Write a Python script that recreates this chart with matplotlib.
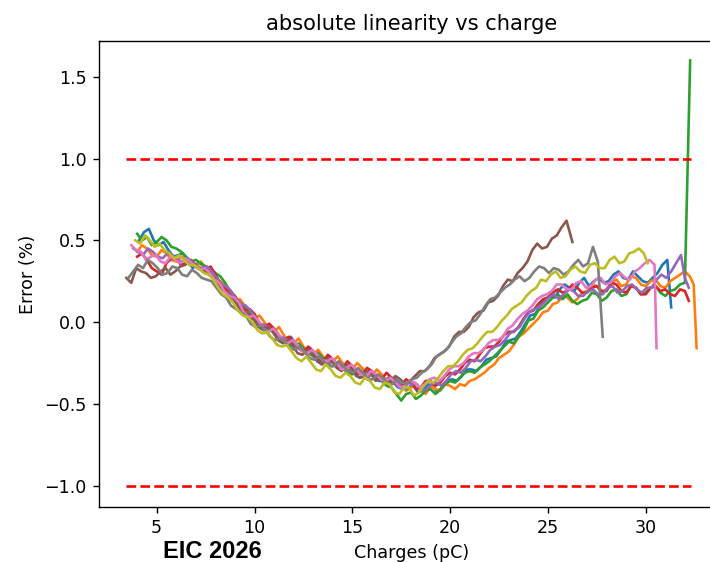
import numpy as np
import matplotlib
matplotlib.use("Agg")
import matplotlib.pyplot as plt

# charge scan sampled every 0.25 pC from each run's first point
step = 0.25

blue_x0 = 4.1
blue_y = [0.50, 0.55, 0.57, 0.50, 0.47, 0.49, 0.44, 0.40, 0.41, 0.42, 0.37, 0.33, 0.36, 0.35, 0.31, 0.30, 0.25, 0.24, 0.19, 0.13,
          0.12, 0.12, 0.08, 0.02, 0.01, -0.04, -0.05, -0.03, -0.07, -0.11, -0.12, -0.09, -0.13, -0.17, -0.19, -0.16, -0.20, -0.24, -0.24, -0.21,
          -0.24, -0.28, -0.29, -0.26, -0.30, -0.34, -0.33, -0.30, -0.32, -0.36, -0.36, -0.34, -0.37, -0.40, -0.41, -0.37, -0.38, -0.43, -0.42, -0.38,
          -0.39, -0.43, -0.40, -0.36, -0.35, -0.36, -0.33, -0.29, -0.29, -0.30, -0.27, -0.23, -0.22, -0.21, -0.17, -0.12, -0.11, -0.10, -0.06, -0.01,
          0.04, 0.05, 0.10, 0.14, 0.16, 0.15, 0.20, 0.23, 0.21, 0.19, 0.24, 0.27, 0.22, 0.25, 0.27, 0.24, 0.25, 0.29, 0.31, 0.27,
          0.26, 0.31, 0.28, 0.25, 0.24, 0.27, 0.30, 0.35, 0.38]
blue_tail_x = [31.3]
blue_tail_y = [0.09]

orange_x0 = 4.0
orange_y = [0.43, 0.47, 0.45, 0.41, 0.40, 0.44, 0.42, 0.38, 0.37, 0.40, 0.39, 0.35, 0.34, 0.37, 0.33, 0.29, 0.26, 0.25, 0.22, 0.16,
            0.13, 0.14, 0.10, 0.05, 0.02, 0.04, 0.00, -0.04, -0.06, -0.03, -0.08, -0.12, -0.13, -0.10, -0.15, -0.19, -0.20, -0.17, -0.21, -0.24,
            -0.24, -0.21, -0.25, -0.29, -0.29, -0.25, -0.28, -0.32, -0.33, -0.29, -0.32, -0.36, -0.37, -0.35, -0.38, -0.42, -0.40, -0.38, -0.41, -0.44,
            -0.39, -0.41, -0.42, -0.38, -0.39, -0.41, -0.38, -0.39, -0.36, -0.35, -0.33, -0.31, -0.28, -0.26, -0.22, -0.20, -0.18, -0.14, -0.09, -0.07,
            -0.04, -0.01, 0.02, 0.06, 0.07, 0.11, 0.12, 0.16, 0.15, 0.12, 0.14, 0.18, 0.19, 0.23, 0.22, 0.18, 0.20, 0.24, 0.26, 0.22,
            0.23, 0.28, 0.27, 0.23, 0.22, 0.25, 0.26, 0.22, 0.21, 0.25, 0.27, 0.29, 0.31]
orange_tail_x = [32.25, 32.45, 32.6]
orange_tail_y = [0.28, 0.23, -0.16]

green_x0 = 4.0
green_y = [0.54, 0.50, 0.52, 0.47, 0.49, 0.52, 0.50, 0.46, 0.45, 0.43, 0.40, 0.37, 0.38, 0.36, 0.34, 0.33, 0.30, 0.28, 0.24, 0.19,
           0.15, 0.12, 0.09, 0.06, 0.04, -0.01, -0.03, -0.05, -0.06, -0.09, -0.11, -0.14, -0.15, -0.13, -0.16, -0.19, -0.21, -0.19, -0.22, -0.26,
           -0.27, -0.25, -0.28, -0.31, -0.32, -0.29, -0.31, -0.35, -0.35, -0.33, -0.36, -0.39, -0.40, -0.44, -0.48, -0.44, -0.43, -0.47, -0.45, -0.42,
           -0.41, -0.44, -0.41, -0.38, -0.36, -0.37, -0.34, -0.31, -0.30, -0.31, -0.28, -0.26, -0.24, -0.21, -0.18, -0.15, -0.12, -0.13, -0.09, -0.05,
           0.01, 0.02, 0.07, 0.09, 0.12, 0.15, 0.17, 0.14, 0.17, 0.13, 0.11, 0.13, 0.14, 0.18, 0.17, 0.13, 0.15, 0.19, 0.20, 0.16,
           0.17, 0.22, 0.21, 0.17, 0.18, 0.21, 0.22, 0.18, 0.16, 0.19, 0.20, 0.23, 0.24]
green_tail_x = [32.27]
green_tail_y = [1.60]

red_x0 = 4.0
red_y = [0.40, 0.42, 0.38, 0.33, 0.31, 0.29, 0.36, 0.39, 0.38, 0.35, 0.36, 0.38, 0.35, 0.32, 0.31, 0.34, 0.29, 0.24, 0.20, 0.19,
         0.16, 0.11, 0.07, 0.08, 0.05, -0.01, -0.03, -0.01, -0.04, -0.08, -0.11, -0.09, -0.12, -0.16, -0.18, -0.15, -0.18, -0.22, -0.24, -0.20,
         -0.23, -0.27, -0.28, -0.24, -0.27, -0.31, -0.32, -0.28, -0.30, -0.34, -0.35, -0.31, -0.34, -0.38, -0.39, -0.35, -0.37, -0.41, -0.40, -0.36,
         -0.36, -0.39, -0.37, -0.33, -0.31, -0.32, -0.29, -0.25, -0.23, -0.24, -0.20, -0.16, -0.15, -0.15, -0.12, -0.08, -0.06, -0.06, -0.03, 0.02,
         0.06, 0.07, 0.11, 0.14, 0.15, 0.18, 0.20, 0.18, 0.19, 0.23, 0.21, 0.18, 0.18, 0.21, 0.22, 0.19, 0.19, 0.24, 0.23, 0.19,
         0.18, 0.22, 0.21, 0.17, 0.17, 0.21, 0.22, 0.19, 0.20, 0.17, 0.16, 0.20, 0.19]
red_tail_x = [32.2]
red_tail_y = [0.13]

purple_x0 = 3.8
purple_y = [0.45, 0.43, 0.41, 0.45, 0.43, 0.40, 0.39, 0.42, 0.41, 0.38, 0.37, 0.39, 0.37, 0.34, 0.33, 0.34, 0.31, 0.27, 0.23, 0.22,
            0.19, 0.14, 0.11, 0.10, 0.07, 0.02, -0.01, -0.02, -0.04, -0.08, -0.09, -0.10, -0.12, -0.14, -0.15, -0.18, -0.19, -0.19, -0.21, -0.24,
            -0.25, -0.24, -0.26, -0.29, -0.30, -0.28, -0.30, -0.33, -0.34, -0.31, -0.33, -0.36, -0.37, -0.34, -0.36, -0.40, -0.41, -0.38, -0.38, -0.42,
            -0.41, -0.38, -0.37, -0.39, -0.36, -0.32, -0.30, -0.31, -0.28, -0.24, -0.23, -0.24, -0.21, -0.17, -0.15, -0.14, -0.11, -0.07, -0.05, -0.03,
            0.02, 0.06, 0.08, 0.09, 0.12, 0.15, 0.17, 0.14, 0.17, 0.20, 0.19, 0.16, 0.16, 0.19, 0.20, 0.17, 0.17, 0.21, 0.22, 0.18,
            0.19, 0.22, 0.23, 0.20, 0.18, 0.21, 0.21, 0.26, 0.29, 0.27, 0.31, 0.36, 0.41]
purple_tail_x = [32.0, 32.2]
purple_tail_y = [0.27, 0.21]

brown_x0 = 3.45
brown_y = [0.27, 0.24, 0.33, 0.31, 0.30, 0.27, 0.28, 0.31, 0.33, 0.29, 0.31, 0.34, 0.35, 0.37, 0.34, 0.33, 0.31, 0.29, 0.27, 0.22,
           0.19, 0.17, 0.14, 0.09, 0.06, 0.05, 0.02, -0.03, -0.05, -0.03, -0.06, -0.11, -0.13, -0.11, -0.14, -0.19, -0.20, -0.17, -0.19, -0.24,
           -0.26, -0.22, -0.24, -0.28, -0.30, -0.26, -0.28, -0.33, -0.34, -0.30, -0.31, -0.36, -0.34, -0.36, -0.37, -0.33, -0.35, -0.38, -0.36, -0.33,
           -0.30, -0.30, -0.27, -0.22, -0.20, -0.18, -0.15, -0.09, -0.06, -0.06, -0.03, 0.03, 0.06, 0.07, 0.12, 0.13, 0.16, 0.22, 0.26, 0.25,
           0.30, 0.33, 0.37, 0.44, 0.48, 0.45, 0.46, 0.51, 0.53, 0.58, 0.62]
brown_tail_x = [26.25]
brown_tail_y = [0.49]

pink_x0 = 3.7
pink_y = [0.47, 0.44, 0.43, 0.38, 0.40, 0.41, 0.37, 0.36, 0.40, 0.38, 0.36, 0.39, 0.37, 0.34, 0.32, 0.33, 0.30, 0.26, 0.24, 0.19,
          0.16, 0.15, 0.12, 0.06, 0.03, 0.04, 0.01, -0.04, -0.06, -0.04, -0.07, -0.11, -0.13, -0.11, -0.14, -0.18, -0.19, -0.17, -0.20, -0.23,
          -0.24, -0.22, -0.25, -0.29, -0.28, -0.26, -0.29, -0.32, -0.33, -0.30, -0.32, -0.35, -0.36, -0.34, -0.37, -0.40, -0.39, -0.36, -0.37, -0.40,
          -0.38, -0.35, -0.34, -0.36, -0.33, -0.29, -0.27, -0.27, -0.25, -0.21, -0.19, -0.19, -0.17, -0.13, -0.11, -0.11, -0.09, -0.04, -0.02, 0.02,
          0.05, 0.07, 0.10, 0.14, 0.16, 0.17, 0.19, 0.23, 0.23, 0.20, 0.20, 0.24, 0.25, 0.21, 0.22, 0.26, 0.27, 0.23, 0.24, 0.28,
          0.30, 0.27, 0.26, 0.31, 0.33, 0.36, 0.38]
pink_tail_x = [30.45, 30.55]
pink_tail_y = [0.35, -0.16]

gray_x0 = 3.55
gray_y = [0.27, 0.31, 0.35, 0.33, 0.38, 0.36, 0.33, 0.29, 0.30, 0.34, 0.33, 0.29, 0.28, 0.32, 0.30, 0.27, 0.26, 0.25, 0.21, 0.17,
          0.15, 0.10, 0.08, 0.06, 0.04, -0.01, -0.03, -0.02, -0.05, -0.09, -0.11, -0.10, -0.12, -0.16, -0.17, -0.15, -0.18, -0.22, -0.23, -0.21,
          -0.24, -0.27, -0.27, -0.24, -0.27, -0.30, -0.31, -0.28, -0.31, -0.35, -0.35, -0.32, -0.34, -0.38, -0.38, -0.35, -0.37, -0.38, -0.35, -0.34,
          -0.31, -0.29, -0.26, -0.21, -0.19, -0.17, -0.13, -0.09, -0.07, -0.03, 0.00, 0.01, 0.05, 0.10, 0.14, 0.15, 0.18, 0.21, 0.23, 0.26,
          0.28, 0.25, 0.27, 0.31, 0.34, 0.33, 0.30, 0.33, 0.32, 0.29, 0.31, 0.35, 0.38, 0.34, 0.36]
gray_tail_x = [27.3, 27.55, 27.8]
gray_tail_y = [0.46, 0.37, -0.09]

olive_x0 = 3.9
olive_y = [0.50, 0.48, 0.53, 0.50, 0.46, 0.48, 0.44, 0.42, 0.39, 0.41, 0.38, 0.35, 0.35, 0.33, 0.30, 0.29, 0.26, 0.21, 0.17, 0.15,
           0.12, 0.07, 0.04, 0.03, 0.00, -0.05, -0.07, -0.06, -0.10, -0.14, -0.15, -0.14, -0.18, -0.22, -0.24, -0.21, -0.25, -0.29, -0.30, -0.26,
           -0.29, -0.33, -0.34, -0.31, -0.33, -0.37, -0.38, -0.34, -0.36, -0.40, -0.41, -0.37, -0.38, -0.43, -0.44, -0.40, -0.40, -0.45, -0.43, -0.39,
           -0.36, -0.37, -0.34, -0.30, -0.27, -0.27, -0.24, -0.20, -0.17, -0.16, -0.13, -0.09, -0.06, -0.06, -0.03, 0.01, 0.04, 0.08, 0.10, 0.12,
           0.16, 0.19, 0.21, 0.26, 0.25, 0.29, 0.31, 0.27, 0.28, 0.32, 0.34, 0.31, 0.30, 0.35, 0.36, 0.33, 0.33, 0.38, 0.40, 0.36,
           0.37, 0.42, 0.43, 0.45, 0.42]
olive_tail_x = [30.1]
olive_tail_y = [0.36]

runs = [
    (blue_x0, blue_y, blue_tail_x, blue_tail_y),
    (orange_x0, orange_y, orange_tail_x, orange_tail_y),
    (green_x0, green_y, green_tail_x, green_tail_y),
    (red_x0, red_y, red_tail_x, red_tail_y),
    (purple_x0, purple_y, purple_tail_x, purple_tail_y),
    (brown_x0, brown_y, brown_tail_x, brown_tail_y),
    (pink_x0, pink_y, pink_tail_x, pink_tail_y),
    (gray_x0, gray_y, gray_tail_x, gray_tail_y),
    (olive_x0, olive_y, olive_tail_x, olive_tail_y),
]

limit_x = [3.45, 32.3]
limit = 1.0

fig = plt.figure(figsize=(710 / 126, 562 / 126), dpi=126)
ax = fig.add_axes([99 / 710, 55 / 562, 625 / 710, 466 / 562])

for x0, ys, tx, ty in runs:
    xs = x0 + step * np.arange(len(ys))
    ax.plot(np.concatenate([xs, tx]), np.concatenate([ys, ty]))

ax.plot(limit_x, [limit, limit], 'r--')
ax.plot(limit_x, [-limit, -limit], 'r--')

ax.set_xlim(2.05, 34.0)
ax.set_ylim(-1.131, 1.719)
ax.set_title("absolute linearity vs charge")
ax.set_xlabel("Charges (pC)")
ax.set_ylabel("Error (%)")

fig.text(0.299, 0.019, "EIC 2026", ha='center', va='center',
         fontsize=13.5, fontweight='bold', family='Liberation Sans')

fig.savefig("out.png", dpi=126)
